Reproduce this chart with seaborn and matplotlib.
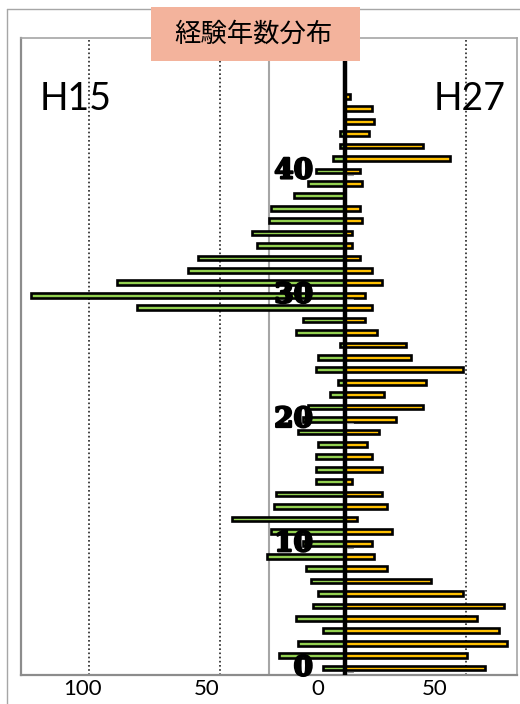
import matplotlib
matplotlib.use('Agg')
import pandas as pd
import matplotlib.pyplot as plt
import matplotlib.patheffects as pe
import seaborn as sns
from matplotlib.patches import Rectangle
from matplotlib.lines import Line2D

# ==========================================
# Data
# ==========================================
years = list(range(47))  # 経験年数 0..46

# H15 survey (drawn to the left)
h15_counts = [9, 27, 19, 9, 20, 13, 11, 14, 16, 32,
              17, 30, 46, 29, 28, 12, 12, 12, 11, 19,
              17, 15, 6, 3, 12, 11, 2, 20, 17, 85,
              128, 93, 64, 60, 36, 38, 31, 30, 21, 15,
              12, 5, 2, 2, 0, 0, 0]

# H27 survey (drawn to the right)
h27_counts = [57, 50, 66, 63, 54, 65, 48, 35, 17, 12,
              11, 19, 5, 17, 15, 3, 15, 11, 9, 14,
              21, 32, 16, 33, 48, 27, 25, 13, 8, 11,
              8, 15, 11, 6, 3, 3, 7, 6, 0, 7,
              6, 43, 32, 10, 12, 11, 2]

title_text = '経験年数分布'
left_name = 'H15'
right_name = 'H27'
year_labels = [0, 10, 20, 30, 40]
x_tick_text = ['100', '50', '0', '50']

df = pd.DataFrame({
    'year': years,
    'H15': [-v for v in h15_counts],
    'H27': h27_counts,
})

# ==========================================
# Plot
# ==========================================
sns.set_style('white')
plt.rcParams['font.family'] = ['Lato', 'DejaVu Sans']
plt.rcParams['text.color'] = 'black'
plt.rcParams['xtick.color'] = 'black'

W, H = 520, 704
fig = plt.figure(figsize=(W / 100, H / 100), dpi=100)
ax = fig.add_axes([21 / W, 1 - 675 / H, 496 / W, 637 / H])

green = '#92D050'
orange = '#FFC000'

sns.barplot(data=df, x='H15', y='year', orient='y', native_scale=True,
            width=0.38, color=green, saturation=1, edgecolor='black',
            linewidth=1.9, ax=ax, zorder=3)
sns.barplot(data=df, x='H27', y='year', orient='y', native_scale=True,
            width=0.38, color=orange, saturation=1, edgecolor='black',
            linewidth=1.9, ax=ax, zorder=3)

ax.set_xlim(-132.2, 70.2)
ax.set_ylim(-0.56, 50.7)
ax.set_xlabel('')
ax.set_ylabel('')
ax.set_yticks([])

# grid lines (Excel style leftovers)
for gx in [-104.5, -51.0, 49.5]:
    ax.axvline(gx, color='#222222', linestyle=(0, (1, 1.5)), linewidth=1.2, zorder=1)
ax.axvline(-31.0, color='#A6A6A6', linewidth=1.5, zorder=1)

# center axis
ax.axvline(0, color='black', linewidth=3.2, zorder=4)

# x tick labels
ax.set_xticks([-107.3, -56.3, -11.0, 36.7])
ax.set_xticklabels(x_tick_text, fontsize=16, color='black')
ax.tick_params(axis='x', length=0, pad=3)

for side in ['left', 'bottom']:
    ax.spines[side].set_color('#8C8C8C')
    ax.spines[side].set_linewidth(1.6)
for side in ['top', 'right']:
    ax.spines[side].set_color('#A6A6A6')
    ax.spines[side].set_linewidth(1.2)

# year labels on the center axis
for yv in year_labels:
    ax.text(-13.1, yv, str(yv), ha='right', va='center', fontsize=20,
            fontweight='bold', family='DejaVu Serif', color='black', zorder=6,
            path_effects=[pe.withStroke(linewidth=1.6, foreground='black')])
    ax.plot([0.8, 3.3], [yv - 0.3, yv - 0.3], color='#999999', linewidth=0.8, zorder=5)

# survey names
fig.text(76 / W, 1 - 110 / H, left_name, ha='center', va='baseline', fontsize=27)
fig.text(470 / W, 1 - 110 / H, right_name, ha='center', va='baseline', fontsize=27)

# outer frame
fig.add_artist(Line2D([7 / W, 7 / W], [0, 1 - 9 / H], color='#A6A6A6', linewidth=1.0))
fig.add_artist(Line2D([7 / W, 1], [1 - 9 / H, 1 - 9 / H], color='#A6A6A6', linewidth=1.0))

# title box
fig.add_artist(Rectangle((151 / W, 1 - 61 / H), 209 / W, 54 / H,
                         transform=fig.transFigure, facecolor='#F3B39C',
                         edgecolor='none', zorder=10))
fig.text(253 / W, 1 - 34 / H, title_text, ha='center', va='center', fontsize=19,
         family=['Noto Sans CJK JP', 'DejaVu Sans'], zorder=11)

fig.savefig('out.png', dpi=100)
